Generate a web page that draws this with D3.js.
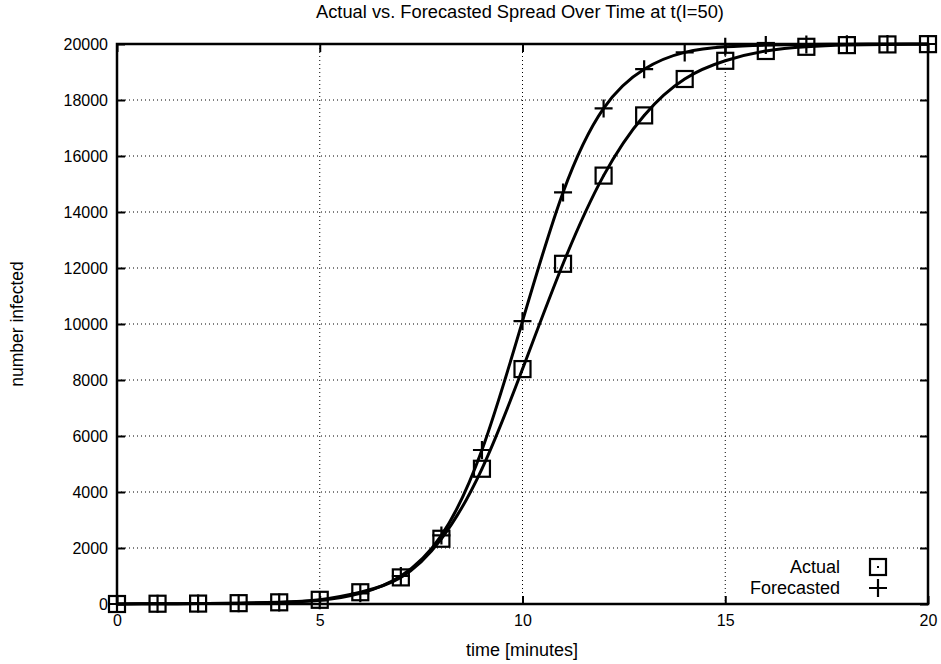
<!DOCTYPE html>
<html>
<head>
<meta charset="utf-8">
<script src="https://cdn.jsdelivr.net/npm/d3@7"></script>
<style>
  body { margin: 0; background: #fff; }
  text { font-family: "Liberation Sans", Arial, sans-serif; fill: #000; }
</style>
</head>
<body>
<script>
// data
var times = [0,1,2,3,4,5,6,7,8,9,10,11,12,13,14,15,16,17,18,19,20];
var actual = [0,10,15,30,60,150,420,950,2330,4830,8390,12150,15300,17450,18750,19400,19750,19900,19960,19985,19995];
var forecasted = [0,10,15,30,55,130,380,1000,2450,5500,10100,14700,17700,19100,19700,19900,19960,19985,19995,20000,20000];
var xTicks = [0,5,10,15,20];
var yTicks = [0,2000,4000,6000,8000,10000,12000,14000,16000,18000,20000];

var W = 941, H = 664;
var margin = {top: 44, right: 13, bottom: 60, left: 117},
    width = W - margin.left - margin.right,
    height = H - margin.top - margin.bottom;

var svg = d3.select("body")
  .append("svg")
    .attr("width", W)
    .attr("height", H);

var g = svg.append("g")
    .attr("transform", "translate(" + margin.left + "," + margin.top + ")");

var x = d3.scaleLinear().domain([0, 20]).range([0, width]);
var y = d3.scaleLinear().domain([0, 20000]).range([height, 0]);

// grid
g.selectAll(".gx")
  .data(xTicks.slice(1, -1))
  .enter().append("line")
    .attr("x1", function(d) { return x(d); })
    .attr("x2", function(d) { return x(d); })
    .attr("y1", 0).attr("y2", height)
    .attr("stroke", "#000").attr("stroke-width", 1)
    .attr("stroke-dasharray", "1,3");
g.selectAll(".gy")
  .data(yTicks.slice(1, -1))
  .enter().append("line")
    .attr("x1", 0).attr("x2", width)
    .attr("y1", function(d) { return y(d); })
    .attr("y2", function(d) { return y(d); })
    .attr("stroke", "#000").attr("stroke-width", 1)
    .attr("stroke-dasharray", "1,3");

// axes (ticks point inward, mirrored on all sides)
function styleAxis(sel) {
  sel.select(".domain").remove();
  sel.selectAll(".tick line").attr("stroke", "#000").attr("stroke-width", 2);
  sel.selectAll("text").style("font-size", "16px")
    .style("font-family", "'Liberation Sans', Arial, sans-serif");
}
g.append("g")
  .attr("transform", "translate(0," + height + ")")
  .call(d3.axisBottom(x).tickValues(xTicks).tickFormat(d3.format("d")).tickSizeInner(-8).tickPadding(11))
  .call(styleAxis);
g.append("g")
  .call(d3.axisTop(x).tickValues(xTicks).tickSizeInner(-8).tickFormat(""))
  .call(styleAxis);
g.append("g")
  .call(d3.axisLeft(y).tickValues(yTicks).tickFormat(d3.format("d")).tickSizeInner(-8).tickPadding(9))
  .call(styleAxis);
g.append("g")
  .attr("transform", "translate(" + width + ",0)")
  .call(d3.axisRight(y).tickValues(yTicks).tickSizeInner(-8).tickFormat(""))
  .call(styleAxis);

// curves
var line = function(vals) {
  return d3.line()
    .x(function(d, i) { return x(times[i]); })
    .y(function(d) { return y(d); })
    .curve(d3.curveNatural)(vals);
};
g.append("path").attr("d", line(actual))
  .attr("fill", "none").attr("stroke", "#000").attr("stroke-width", 3);
g.append("path").attr("d", line(forecasted))
  .attr("fill", "none").attr("stroke", "#000").attr("stroke-width", 3);

// markers
function drawSquare(sel, cx, cy) {
  sel.append("rect")
    .attr("x", cx - 8).attr("y", cy - 8)
    .attr("width", 16).attr("height", 16)
    .attr("fill", "none").attr("stroke", "#000").attr("stroke-width", 2.2);
  sel.append("rect")
    .attr("x", cx - 1).attr("y", cy - 1).attr("width", 2).attr("height", 2)
    .attr("fill", "#000");
}
function drawPlus(sel, cx, cy) {
  sel.append("path")
    .attr("d", "M" + (cx - 9) + "," + cy + "H" + (cx + 9) + "M" + cx + "," + (cy - 9) + "V" + (cy + 9))
    .attr("stroke", "#000").attr("stroke-width", 2.2).attr("fill", "none");
}
actual.forEach(function(v, i) { drawSquare(g, x(times[i]), y(v)); });
forecasted.forEach(function(v, i) { drawPlus(g, x(times[i]), y(v)); });

// frame
g.append("rect")
  .attr("x", 0).attr("y", 0).attr("width", width).attr("height", height)
  .attr("fill", "none").attr("stroke", "#000").attr("stroke-width", 2.5);

// legend
var legend = g.append("g");
legend.append("text").attr("x", 723).attr("y", 523 + 6)
  .attr("text-anchor", "end").style("font-size", "18px").text("Actual");
drawSquare(legend, 761, 523);
legend.append("text").attr("x", 723).attr("y", 544 + 6)
  .attr("text-anchor", "end").style("font-size", "18px").text("Forecasted");
drawPlus(legend, 761, 544);

// titles
svg.append("text")
  .attr("x", 520).attr("y", 18)
  .attr("text-anchor", "middle").style("font-size", "18.3px")
  .text("Actual vs. Forecasted Spread Over Time at t(I=50)");
svg.append("text")
  .attr("x", 522).attr("y", 656)
  .attr("text-anchor", "middle").style("font-size", "18px")
  .text("time [minutes]");
svg.append("text")
  .attr("transform", "translate(23," + (margin.top + height / 2) + ")rotate(-90)")
  .attr("text-anchor", "middle").style("font-size", "17.5px")
  .text("number infected");
</script>
</body>
</html>
